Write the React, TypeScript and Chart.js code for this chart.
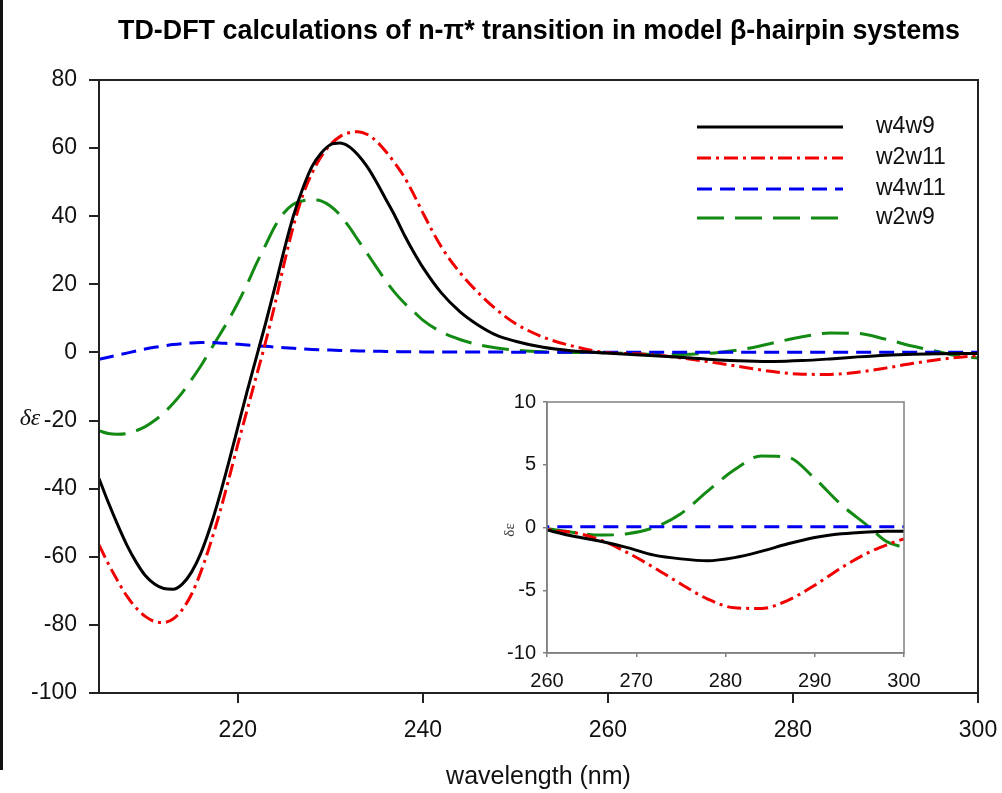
import React, { useEffect, useRef } from 'react';
import { Chart, registerables } from 'chart.js';

Chart.register(...registerables);

// ---------- data ----------
const wavelengths = [
  205, 206, 207, 208, 209, 210, 211, 212, 213, 214, 215, 216, 217, 218, 219, 220,
  221, 222, 223, 224, 225, 226, 227, 228, 229, 230, 231, 232, 233, 234, 235, 236,
  237, 238, 239, 240, 242, 244, 246, 248, 250, 253, 256, 260, 263, 266, 269, 272,
  275, 278, 281, 284, 287, 290, 293, 296, 298, 300,
];

const w4w9 = [
  -37, -44, -50.5, -56.5, -61.5, -65.5, -68, -69.3, -69.5, -68, -64.5, -59, -51.5, -42.5, -32.5, -22,
  -11.5, -1.5, 8.5, 19, 30, 40, 48, 54.5, 58.5, 61, 61.5, 60.5, 58, 54.5, 50, 45,
  40, 34.5, 29.5, 25, 17.5, 12, 8, 5, 3.3, 1.5, 0.5, -0.2, -0.7, -1.1, -1.6, -2.2,
  -2.5, -2.65, -2.4, -1.9, -1.3, -0.8, -0.5, -0.35, -0.3, -0.3,
];

const w2w11 = [
  -56.5, -62, -67, -71.5, -75, -77.5, -79, -79.3, -78.3, -75.5, -71, -64.5, -56.5, -47.5, -37.5, -27,
  -17, -7, 3, 14, 26, 37, 46, 52.5, 57.5, 61, 63.3, 64.5, 64.8, 64, 62, 59,
  55.5, 51.5, 46.5, 41, 31, 23.5, 17.5, 12.5, 8.5, 4.5, 2, -0.1, -0.4, -1, -2, -3.2,
  -4.5, -5.7, -6.4, -6.45, -5.8, -4.6, -3.2, -2, -1.4, -0.9,
];

const w4w11 = [
  -2, -1.4, -0.8, -0.2, 0.4, 1, 1.5, 1.9, 2.3, 2.6, 2.8, 2.9, 2.9, 2.8, 2.6, 2.4,
  2.2, 2, 1.8, 1.6, 1.4, 1.2, 1, 0.9, 0.8, 0.7, 0.6, 0.5, 0.45, 0.4, 0.35, 0.3,
  0.25, 0.2, 0.2, 0.15, 0.1, 0.1, 0.1, 0.1, 0.08, 0.06, 0.05, 0.05, 0.05, 0.05, 0.05, 0.05,
  0.05, 0.05, 0.05, 0.05, 0.05, 0.05, 0.05, 0.05, 0.05, 0.05,
];

const w2w9 = [
  -23, -23.8, -24, -23.8, -23, -21.8, -20, -17.8, -15, -11.8, -8, -4, 0.5, 5, 9.5, 14.5,
  20, 26, 31.5, 37, 41, 43.5, 44.5, 44.8, 44.5, 43, 40.5, 37, 33, 29, 25, 21,
  17.5, 14.5, 12, 9.5, 6, 3.8, 2.3, 1.3, 0.7, 0.2, 0, -0.1, -0.4, -0.6, -0.5, 0,
  1.1, 2.9, 4.6, 5.7, 5.6, 3.9, 1.8, 0.1, -1.1, -1.6,
];

const seriesNames = ['w4w9', 'w2w11', 'w4w11', 'w2w9'];
const seriesValues = [w4w9, w2w11, w4w11, w2w9];

const mainXTicks = [220, 240, 260, 280, 300];
const mainYTicks = [-100, -80, -60, -40, -20, 0, 20, 40, 60, 80];
const insetXTicks = [260, 270, 280, 290, 300];
const insetYTicks = [-10, -5, 0, 5, 10];

const chartTitle = 'TD-DFT calculations of n-\u03C0* transition in model \u03B2-hairpin systems';
const xAxisTitle = 'wavelength (nm)';
const yAxisTitle = '\u03B4\u03B5';

// ---------- styles ----------
const seriesStyles = [
  { color: '#000000', dash: [] as number[] },
  { color: '#f00000', dash: [14, 5, 3, 5] },
  { color: '#0000f0', dash: [15, 8] },
  { color: '#138a13', dash: [27, 11] },
];

const SANS = '"Liberation Sans", Arial, sans-serif';
const SERIF = '"Liberation Serif", "Times New Roman", serif';

function makeDatasets(width: number) {
  return seriesValues.map((vals, i) => ({
    label: seriesNames[i],
    data: wavelengths.map((x, j) => ({ x, y: vals[j] })),
    borderColor: seriesStyles[i].color,
    backgroundColor: seriesStyles[i].color,
    borderDash: seriesStyles[i].dash,
    borderWidth: width,
    pointRadius: 0,
    fill: false,
    cubicInterpolationMode: 'monotone' as const,
  }));
}

const mainDecor = {
  id: 'mainDecor',
  afterDraw(chart: any) {
    const { ctx, chartArea: a } = chart;
    ctx.save();
    // frame
    ctx.strokeStyle = '#222';
    ctx.lineWidth = 2;
    ctx.strokeRect(a.left, a.top, a.right - a.left, a.bottom - a.top);
    // left border of picture
    ctx.fillStyle = '#111';
    ctx.fillRect(0, 0, 3, 770);
    // title
    ctx.fillStyle = '#000';
    ctx.font = `bold 28px ${SANS}`;
    ctx.textAlign = 'center';
    ctx.textBaseline = 'middle';
    ctx.fillText(chartTitle, 539, 31, 842);
    // y axis title
    ctx.font = `italic 24px ${SERIF}`;
    ctx.fillStyle = '#111';
    ctx.fillText(yAxisTitle, 30, 419);
    // legend
    const rows = [127, 158, 189, 218];
    ctx.textAlign = 'left';
    ctx.font = `23px ${SANS}`;
    rows.forEach((y, i) => {
      ctx.beginPath();
      ctx.strokeStyle = seriesStyles[i].color;
      ctx.lineWidth = 3;
      ctx.setLineDash(seriesStyles[i].dash);
      ctx.moveTo(697, y);
      ctx.lineTo(843, y);
      ctx.stroke();
      ctx.setLineDash([]);
      ctx.fillStyle = '#111';
      ctx.fillText(seriesNames[i], 876, y);
    });
    ctx.restore();
  },
};

const insetDecor = {
  id: 'insetDecor',
  afterDraw(chart: any) {
    const { ctx, chartArea: a } = chart;
    ctx.save();
    ctx.strokeStyle = '#808080';
    ctx.lineWidth = 1.5;
    ctx.strokeRect(a.left, a.top, a.right - a.left, a.bottom - a.top);
    ctx.translate(20, 145);
    ctx.rotate(-Math.PI / 2);
    ctx.fillStyle = '#333';
    ctx.font = `15px ${SERIF}`;
    ctx.textAlign = 'center';
    ctx.textBaseline = 'middle';
    ctx.fillText(yAxisTitle, 0, 0);
    ctx.restore();
  },
};

function fitX(h: number) {
  return (s: any) => {
    s.height = h;
    s.paddingLeft = 0;
    s.paddingRight = 0;
  };
}
function fitY(w: number) {
  return (s: any) => {
    s.width = w;
    s.paddingTop = 0;
    s.paddingBottom = 0;
  };
}

function MainChart() {
  const ref = useRef<HTMLCanvasElement>(null);
  useEffect(() => {
    const chart = new Chart(ref.current as HTMLCanvasElement, {
      type: 'line',
      data: { datasets: makeDatasets(3) as any },
      options: {
        animation: false,
        responsive: false,
        devicePixelRatio: 1,
        layout: { padding: { top: 80, right: 24, left: 0, bottom: 0 } },
        plugins: { legend: { display: false }, tooltip: { enabled: false }, title: { display: false } },
        scales: {
          x: {
            type: 'linear',
            min: 205,
            max: 300,
            afterBuildTicks: (s: any) => { s.ticks = mainXTicks.map((v) => ({ value: v })); },
            afterFit: fitX(100),
            grid: { display: true, drawOnChartArea: false, drawTicks: true, tickLength: 10, color: '#222', lineWidth: 2 },
            border: { display: true, color: '#222', width: 2 },
            ticks: { font: { family: SANS, size: 23 }, color: '#111', padding: 14, maxRotation: 0 },
            title: { display: true, text: xAxisTitle, font: { family: SANS, size: 25 }, color: '#111', padding: { top: 0, bottom: 1 } },
          },
          y: {
            type: 'linear',
            min: -100,
            max: 80,
            afterBuildTicks: (s: any) => { s.ticks = mainYTicks.map((v) => ({ value: v })); },
            afterFit: fitY(99),
            grid: { display: true, drawOnChartArea: false, drawTicks: true, tickLength: 10, color: '#222', lineWidth: 2 },
            border: { display: true, color: '#222', width: 2 },
            ticks: { font: { family: SANS, size: 23 }, color: '#111', padding: 12 },
          },
        },
      },
      plugins: [mainDecor],
    });
    return () => chart.destroy();
  }, []);
  return <canvas ref={ref} width={1002} height={793} style={{ position: 'absolute', left: 0, top: 0 }} />;
}

function InsetChart() {
  const ref = useRef<HTMLCanvasElement>(null);
  useEffect(() => {
    const chart = new Chart(ref.current as HTMLCanvasElement, {
      type: 'line',
      data: { datasets: makeDatasets(3) as any },
      options: {
        animation: false,
        responsive: false,
        devicePixelRatio: 1,
        layout: { padding: { top: 17, right: 16, left: 0, bottom: 0 } },
        plugins: { legend: { display: false }, tooltip: { enabled: false }, title: { display: false } },
        scales: {
          x: {
            type: 'linear',
            min: 260,
            max: 300,
            afterBuildTicks: (s: any) => { s.ticks = insetXTicks.map((v) => ({ value: v })); },
            afterFit: fitX(42),
            grid: { display: true, drawOnChartArea: false, drawTicks: true, tickLength: 4, color: '#808080', lineWidth: 1.5 },
            border: { display: true, color: '#808080', width: 1.5 },
            ticks: { font: { family: SANS, size: 20 }, color: '#111', padding: 12, maxRotation: 0 },
          },
          y: {
            type: 'linear',
            min: -10,
            max: 10,
            afterBuildTicks: (s: any) => { s.ticks = insetYTicks.map((v) => ({ value: v })); },
            afterFit: fitY(57),
            grid: { display: true, drawOnChartArea: false, drawTicks: true, tickLength: 4, color: '#808080', lineWidth: 1.5 },
            border: { display: true, color: '#808080', width: 1.5 },
            ticks: { font: { family: SANS, size: 20 }, color: '#111', padding: 7 },
          },
        },
      },
      plugins: [insetDecor],
    });
    return () => chart.destroy();
  }, []);
  return <canvas ref={ref} width={430} height={310} style={{ position: 'absolute', left: 490, top: 385 }} />;
}

export default function App() {
  return (
    <div style={{ position: 'absolute', left: 0, top: 0, width: 1002, height: 793, background: '#fff' }}>
      <MainChart />
      <InsetChart />
    </div>
  );
}
